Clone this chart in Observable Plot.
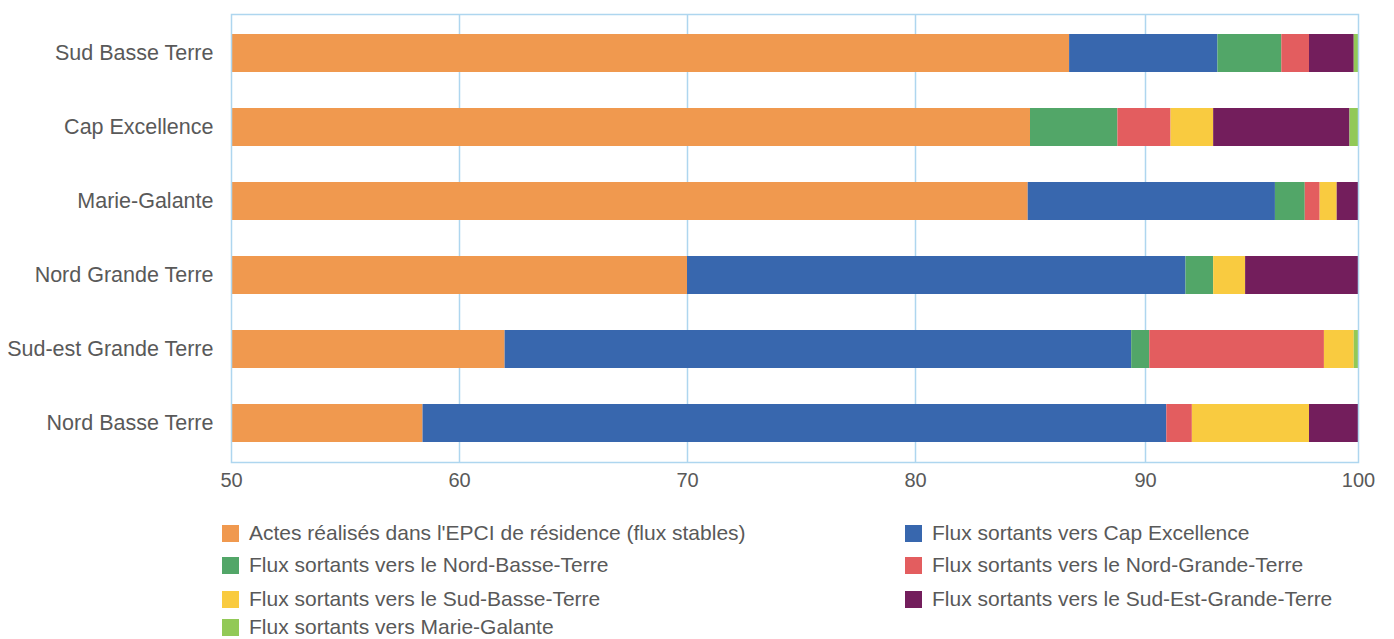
<!DOCTYPE html>
<html>
<head>
<meta charset="utf-8">
<script src="https://cdn.jsdelivr.net/npm/d3@7"></script>
<script src="https://cdn.jsdelivr.net/npm/@observablehq/plot@0.6"></script>
<style>
  html, body { margin: 0; padding: 0; background: #fff; }
  body { width: 1394px; height: 639px; overflow: hidden; font-family: "Liberation Sans", Arial, sans-serif; }
  #chart svg { display: block; }
  #legend { position: relative; height: 139px; }
  .item { position: absolute; display: flex; align-items: center; font-size: 21px; line-height: 22px; color: #595959; white-space: nowrap; }
  .sw { width: 17px; height: 17px; margin-right: 10px; }
</style>
</head>
<body>
<div id="chart"></div>
<div id="legend"></div>
<script>
const categories = ["Sud Basse Terre", "Cap Excellence", "Marie-Galante", "Nord Grande Terre", "Sud-est Grande Terre", "Nord Basse Terre"];
const seriesNames = [
  "Actes réalisés dans l'EPCI de résidence (flux stables)",
  "Flux sortants vers Cap Excellence",
  "Flux sortants vers le Nord-Basse-Terre",
  "Flux sortants vers le Nord-Grande-Terre",
  "Flux sortants vers le Sud-Basse-Terre",
  "Flux sortants vers le Sud-Est-Grande-Terre",
  "Flux sortants vers Marie-Galante"
];
const colors = ["#f0994f", "#3867ae", "#52a668", "#e35d5f", "#f9cb40", "#731e5c", "#92c957"];
// values per series, in category order
const stables       = [86.7, 85.0, 84.9, 70.0, 62.0, 58.4];
const capExcellence = [6.7, 0.0, 11.2, 21.9, 27.4, 32.6];
const nordBT        = [3.0, 3.8, 1.4, 1.3, 0.8, 0.0];
const nordGT        = [1.3, 2.4, 0.7, 0.0, 8.2, 1.2];
const sudBT         = [0.0, 2.0, 0.8, 1.5, 1.4, 5.5];
const sudEstGT      = [2.1, 6.4, 1.0, 5.3, 0.0, 2.3];
const marieGalante  = [0.2, 0.4, 0.0, 0.0, 0.2, 0.0];
const xTicks = [50, 60, 70, 80, 90, 100];
const xTickPixels = [231, 459, 687, 915, 1145, 1358];

const seriesValues = [stables, capExcellence, nordBT, nordGT, sudBT, sudEstGT, marieGalante];
const rows = [];
categories.forEach((c, i) => {
  let acc = 0;
  seriesValues.forEach((vals, s) => {
    const v = vals[i];
    if (v > 0) {
      rows.push({cat: c, series: seriesNames[s], x1: Math.max(50, acc), x2: Math.min(100, acc + v)});
    }
    acc += v;
  });
});

const gridColor = "#aed6ef";
const chart = Plot.plot({
  width: 1394,
  height: 500,
  marginLeft: 231,
  marginRight: 36,
  marginTop: 14,
  marginBottom: 38,
  style: {fontFamily: "'Liberation Sans', Arial, sans-serif", fontSize: "20px", color: "#595959", background: "#fff"},
  x: {type: "linear", domain: xTicks, range: xTickPixels, ticks: xTicks, tickSize: 0, tickPadding: 10, label: null},
  y: {domain: categories, paddingInner: 0.49, paddingOuter: 0.245, tickSize: 0, tickPadding: 18, label: null},
  color: {domain: seriesNames, range: colors},
  marks: [
    Plot.ruleX([60, 70, 80, 90], {stroke: gridColor, strokeWidth: 1.5}),
    Plot.barX(rows, {y: "cat", x1: "x1", x2: "x2", fill: "series", insetLeft: 0, insetRight: 0, insetTop: 0, insetBottom: 0}),
    Plot.frame({stroke: gridColor, strokeWidth: 1.5})
  ]
});
chart.querySelectorAll("g[aria-label='y-axis tick label'] text").forEach(t => t.setAttribute("font-size", "21.5px"));
chart.querySelectorAll("g[aria-label='x-axis tick label'] text").forEach(t => t.setAttribute("font-size", "20px"));
document.getElementById("chart").appendChild(chart);

const legend = document.getElementById("legend");
const pos = [[222, 22], [905, 22], [222, 54], [905, 54], [222, 88], [905, 88], [222, 116]];
seriesNames.forEach((name, i) => {
  const d = document.createElement("div");
  d.className = "item";
  d.style.left = pos[i][0] + "px";
  d.style.top = pos[i][1] + "px";
  const sw = document.createElement("div");
  sw.className = "sw";
  sw.style.background = colors[i];
  const t = document.createElement("span");
  t.textContent = name;
  d.appendChild(sw);
  d.appendChild(t);
  legend.appendChild(d);
});
</script>
</body>
</html>
